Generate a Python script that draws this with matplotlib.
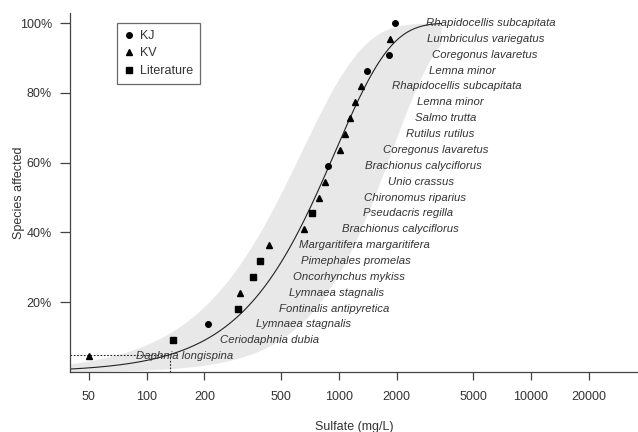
import numpy as np
import matplotlib
matplotlib.use('Agg')
from matplotlib import pyplot as plt
from matplotlib.lines import Line2D

plt.rcParams['font.family'] = ['Liberation Sans', 'DejaVu Sans']

# toxicity values, sorted, lowest first (mg/L sulfate)
species = ['Daphnia longispina', 'Ceriodaphnia dubia', 'Lymnaea stagnalis',
           'Fontinalis antipyretica', 'Lymnaea stagnalis', 'Oncorhynchus mykiss',
           'Pimephales promelas', 'Margaritifera margaritifera', 'Brachionus calyciflorus',
           'Pseudacris regilla', 'Chironomus riparius', 'Unio crassus',
           'Brachionus calyciflorus', 'Coregonus lavaretus', 'Rutilus rutilus',
           'Salmo trutta', 'Lemna minor', 'Rhapidocellis subcapitata', 'Lemna minor',
           'Coregonus lavaretus', 'Lumbriculus variegatus', 'Rhapidocellis subcapitata']
conc = [50, 138, 209, 300, 308, 357, 391, 432, 662, 729, 793, 851, 879,
        1019, 1072, 1148, 1209, 1310, 1402, 1816, 1850, 1950]
source = ['KV', 'Literature', 'KJ', 'Literature', 'KV', 'Literature', 'Literature',
          'KV', 'KV', 'Literature', 'KV', 'KV', 'KJ', 'KV', 'KV', 'KV', 'KV', 'KV',
          'KJ', 'KJ', 'KV', 'KJ']

# fitted weibull and confidence band (shape, scale)
fit_shape, fit_scale = 1.5, 960
upper_shape, upper_scale = 1.35, 640
lower_shape, lower_scale = 1.75, 1880

x_ticks = [50, 100, 200, 500, 1000, 2000, 5000, 10000, 20000]
y_ticks = [0.2, 0.4, 0.6, 0.8, 1.0]


def weibull_cdf(x, shape, scale):
    return 1 - np.exp(-(x / scale) ** shape)


markers = {'KJ': 'o', 'KV': '^', 'Literature': 's'}
sizes = {'KJ': 4.0, 'KV': 4.6, 'Literature': 4.2}

fig = plt.figure(figsize=(6.38, 4.32), dpi=100)
ax = fig.add_axes([70 / 638, 60 / 432, 568 / 638, 359 / 432])

conc = np.array(conc, dtype=float)
frac = np.arange(1, len(conc) + 1) / len(conc)

xs = np.logspace(np.log10(40), np.log10(3400), 300)
ax.fill_between(xs, weibull_cdf(xs, lower_shape, lower_scale),
                weibull_cdf(xs, upper_shape, upper_scale),
                color='#e8e8e8', linewidth=0, zorder=1)
ax.plot(xs, weibull_cdf(xs, fit_shape, fit_scale), color='#222222', lw=0.8, zorder=2)

# hc5
hc5 = fit_scale * (-np.log(0.95)) ** (1 / fit_shape)
ax.plot([40, hc5], [0.05, 0.05], color='#222222', lw=0.8, ls=(0, (1.5, 1.5)), zorder=2)
ax.plot([hc5, hc5], [0, 0.05], color='#222222', lw=0.8, ls=(0, (1.5, 1.5)), zorder=2)

for s in markers:
    mask = np.array([v == s for v in source])
    ax.plot(conc[mask], frac[mask], ls='none', marker=markers[s], ms=sizes[s],
            color='black', mec='black', zorder=3)

for name, c, f in zip(species, conc, frac):
    ax.text(c * 3.15, f, name, style='italic', fontsize=8.2, color='#333333',
            ha='center', va='center', zorder=4)

ax.set_xscale('log')
ax.set_xlim(40, 36000)
ax.set_ylim(0, 1.0287)
ax.set_xticks(x_ticks)
ax.set_xticklabels([str(t) for t in x_ticks])
ax.minorticks_off()
ax.set_yticks(y_ticks)
ax.set_yticklabels(['%d%%' % round(t * 100) for t in y_ticks])

ax.spines['top'].set_visible(False)
ax.spines['right'].set_visible(False)
for sp in ['left', 'bottom']:
    ax.spines[sp].set_color('#444444')
    ax.spines[sp].set_linewidth(0.9)
ax.tick_params(axis='x', length=6, width=0.9, color='#444444', pad=8,
               labelsize=9, labelcolor='#333333')
ax.tick_params(axis='y', length=7, width=0.9, color='#444444', pad=6,
               labelsize=9, labelcolor='#333333')

ax.set_xlabel('Sulfate (mg/L)', fontsize=9, color='#333333')
ax.xaxis.set_label_coords(0.5, -0.153)
ax.xaxis.label.set_va('center')
ax.set_ylabel('Species affected', fontsize=9, color='#333333')
ax.yaxis.set_label_coords(-0.09, 0.5)
ax.yaxis.label.set_va('center')

handles = [Line2D([], [], ls='none', marker=markers[s], ms=sizes[s], color='black')
           for s in markers]
leg = ax.legend(handles, list(markers), loc='upper left',
                bbox_to_anchor=(47 / 568, 349 / 359), borderaxespad=0,
                fontsize=9, frameon=True, fancybox=False, handlelength=0.8,
                handletextpad=0.5, labelspacing=0.45, borderpad=0.55)
leg.get_frame().set_edgecolor('#444444')
leg.get_frame().set_linewidth(0.9)
for t in leg.get_texts():
    t.set_color('#333333')

fig.savefig('out.png', dpi=100)
plt.close(fig)
